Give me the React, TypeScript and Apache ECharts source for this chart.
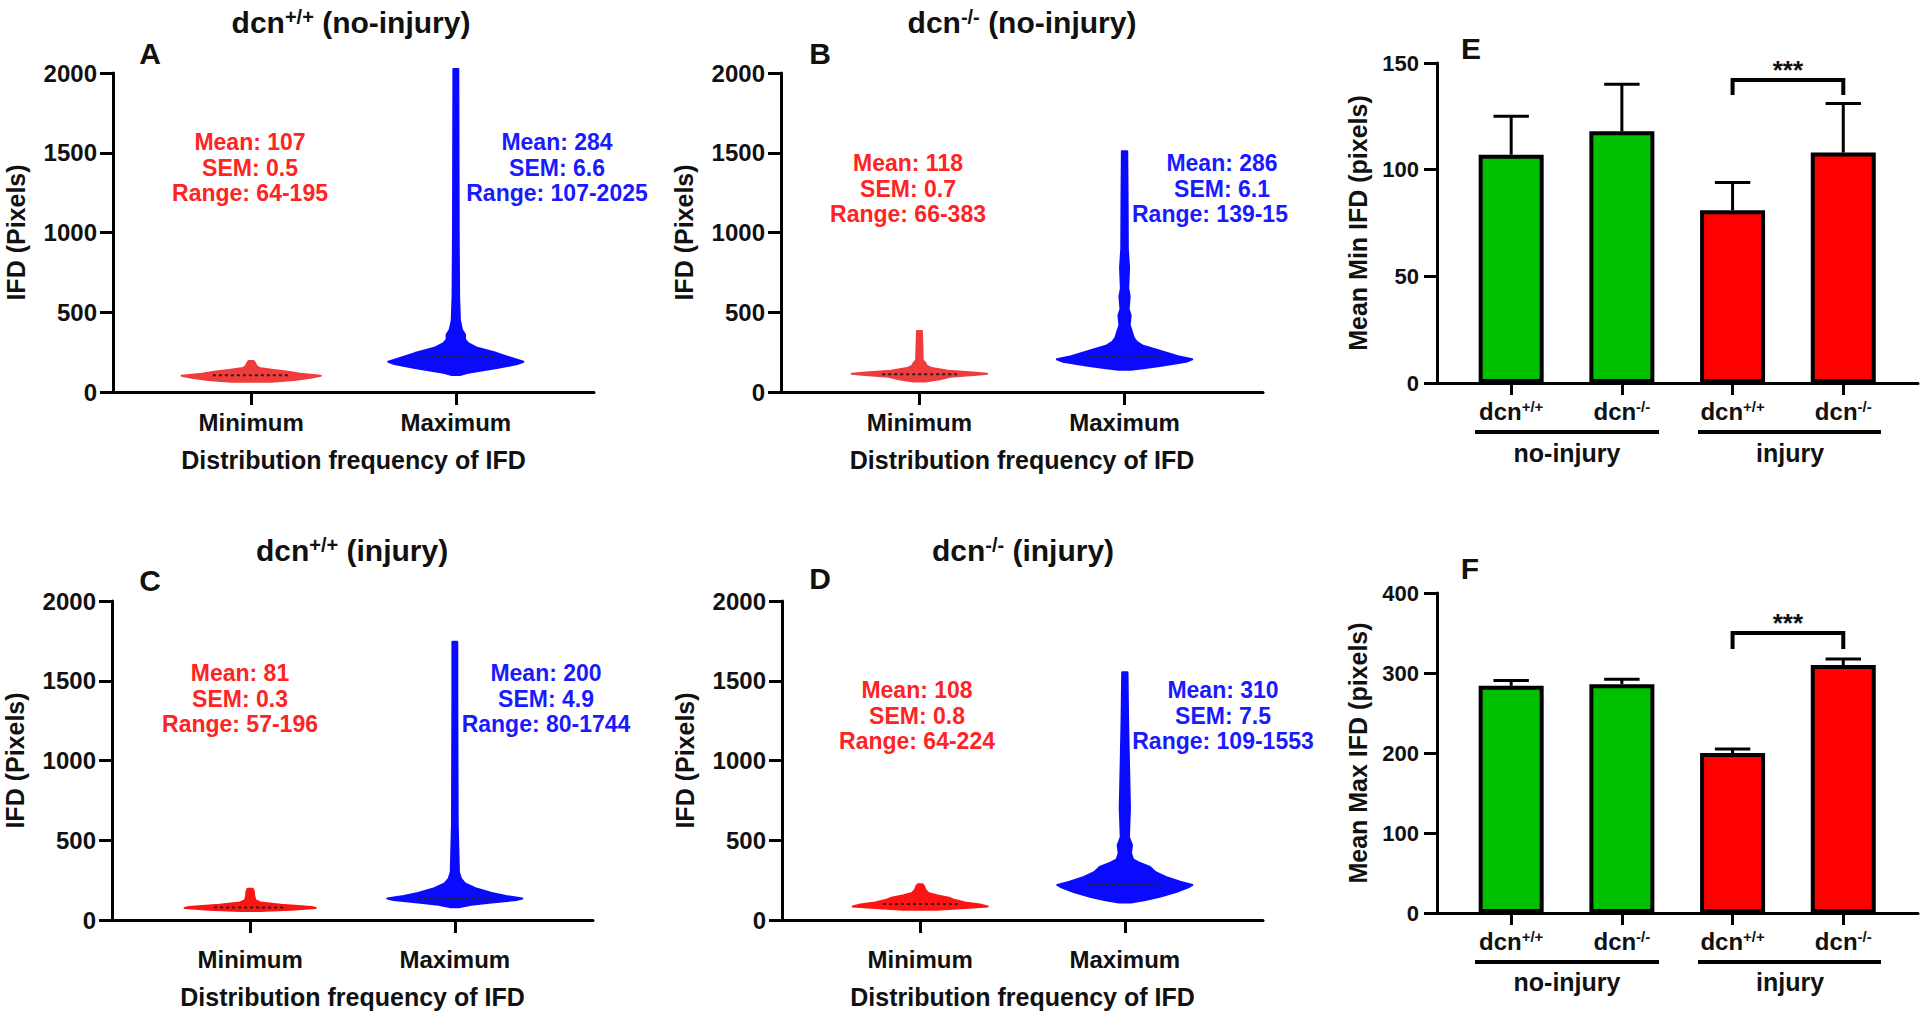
import React, { useEffect, useRef } from 'react';
import * as echarts from 'echarts';

const FONT = '"Liberation Sans", Arial, Helvetica, sans-serif';

// ---------- violin panels (A-D) ----------
const violinCategories = ['Minimum', 'Maximum'];
const violinYMax = 2000;
const violinYInterval = 500;

// density profiles: [IFD value, half-width in x-axis units]
const minProfileA = [[64, 0.1], [75, 0.21], [90, 0.29], [102, 0.34], [115, 0.24], [127, 0.18], [140, 0.1], [150, 0.04], [165, 0.025], [180, 0.02], [195, 0.012]];
const maxProfileA = [[107, 0.02], [120, 0.06], [150, 0.2], [175, 0.3], [190, 0.33], [210, 0.28], [244, 0.2], [280, 0.1], [307, 0.06], [330, 0.045], [360, 0.045], [390, 0.03], [450, 0.02], [600, 0.016], [1000, 0.014], [1500, 0.013], [2025, 0.012]];
const minProfileB = [[66, 0.03], [80, 0.1], [96, 0.15], [108, 0.28], [115, 0.33], [122, 0.26], [134, 0.14], [150, 0.06], [165, 0.035], [180, 0.03], [200, 0.016], [300, 0.014], [383, 0.012]];
const maxProfileB = [[139, 0.03], [150, 0.1], [165, 0.18], [190, 0.3], [205, 0.33], [225, 0.26], [263, 0.16], [290, 0.09], [315, 0.06], [340, 0.045], [380, 0.035], [420, 0.025], [480, 0.03], [520, 0.02], [600, 0.025], [650, 0.018], [780, 0.022], [900, 0.016], [1200, 0.015], [1510, 0.013]];
const minProfileC = [[57, 0.05], [65, 0.2], [75, 0.32], [82, 0.3], [95, 0.15], [110, 0.05], [125, 0.025], [150, 0.02], [180, 0.018], [196, 0.012]];
const maxProfileC = [[80, 0.02], [95, 0.08], [110, 0.18], [125, 0.3], [135, 0.33], [150, 0.25], [170, 0.18], [200, 0.1], [230, 0.05], [260, 0.03], [300, 0.02], [400, 0.018], [600, 0.014], [1000, 0.013], [1400, 0.012], [1744, 0.012]];
const minProfileD = [[64, 0.08], [75, 0.22], [85, 0.33], [95, 0.3], [110, 0.22], [125, 0.17], [140, 0.14], [155, 0.08], [170, 0.04], [190, 0.025], [210, 0.02], [224, 0.012]];
const maxProfileD = [[109, 0.03], [125, 0.1], [146, 0.17], [175, 0.25], [205, 0.31], [220, 0.33], [240, 0.27], [270, 0.2], [300, 0.15], [335, 0.12], [360, 0.07], [380, 0.04], [420, 0.03], [470, 0.035], [520, 0.02], [700, 0.025], [1000, 0.02], [1250, 0.016], [1553, 0.013]];

const mediansA = [105, 222];
const mediansB = [112, 222];
const mediansC = [78, 135];
const mediansD = [100, 220];

const statsMinA = ['Mean: 107', 'SEM: 0.5', 'Range: 64-195'];
const statsMaxA = ['Mean: 284', 'SEM: 6.6', 'Range: 107-2025'];
const statsMinB = ['Mean: 118', 'SEM: 0.7', 'Range: 66-383'];
const statsMaxB = ['Mean: 286', 'SEM: 6.1', 'Range: 139-15'];
const statsMinC = ['Mean: 81', 'SEM: 0.3', 'Range: 57-196'];
const statsMaxC = ['Mean: 200', 'SEM: 4.9', 'Range: 80-1744'];
const statsMinD = ['Mean: 108', 'SEM: 0.8', 'Range: 64-224'];
const statsMaxD = ['Mean: 310', 'SEM: 7.5', 'Range: 109-1553'];

// ---------- bar panels (E-F) ----------
const barBase = 'dcn';
const barSup = ['+/+', '-/-', '+/+', '-/-'];
const groupLabels = ['no-injury', 'injury'];
const meanMin = [107, 118, 81, 108];
const errMin = [18, 22, 13, 23];
const meanMax = [284, 286, 200, 310];
const errMax = [6.6, 6.1, 4.9, 7.5];
const barColors = ['#00c000', '#00c000', '#ff0000', '#ff0000'];
const sigMin = [2, 3, 142, 135];
const sigMax = [2, 3, 350, 330];

const RED_V1 = '#f03c3c';
const RED_V2 = '#ff1414';
const BLUE_V = '#0a0aff';
const RED_T = '#ff2424';
const BLUE_T = '#1a1aff';

const blackLine = { color: '#000', width: 3 };

function violinX(gridIndex: number, margin: number, nameGap: number) {
  return {
    type: 'value', gridIndex, min: 0.325, max: 2.675,
    axisLine: { show: true, onZero: false, lineStyle: blackLine },
    axisTick: { show: true, customValues: [1, 2], length: 13, lineStyle: blackLine },
    axisLabel: {
      show: true, customValues: [1, 2], margin,
      formatter: (v: number) => violinCategories[Math.round(v) - 1],
      fontSize: 24, fontWeight: 'bold', color: '#111', fontFamily: FONT,
    },
    splitLine: { show: false },
    name: 'Distribution frequency of IFD', nameLocation: 'middle', nameGap,
    nameTextStyle: { fontSize: 25, fontWeight: 'bold', color: '#111', fontFamily: FONT },
  };
}

function violinY(gridIndex: number) {
  return {
    type: 'value', gridIndex, min: 0, max: violinYMax, interval: violinYInterval,
    axisLine: { show: true, onZero: false, lineStyle: blackLine },
    axisTick: { show: true, length: 13, lineStyle: blackLine },
    axisLabel: { margin: 16, fontSize: 24, fontWeight: 'bold', color: '#111', fontFamily: FONT, formatter: (v: number) => String(v) },
    splitLine: { show: false },
    name: 'IFD (Pixels)', nameLocation: 'middle', nameGap: 85,
    nameTextStyle: { fontSize: 25, fontWeight: 'bold', color: '#111', fontFamily: FONT },
  };
}

function violinSeries(idx: number, profiles: number[][][], medians: number[], colors: string[]) {
  return {
    type: 'custom', xAxisIndex: idx, yAxisIndex: idx, clip: false, silent: true,
    data: [[1, medians[0]], [2, medians[1]]],
    encode: { x: 0, y: 1 },
    renderItem: (params: any, api: any) => {
      const i = params.dataIndex;
      const cx = api.value(0);
      const prof = profiles[i];
      const right = prof.map(([v, w]) => api.coord([cx + w, v]));
      const left = prof.slice().reverse().map(([v, w]) => api.coord([cx - w, v]));
      const med = api.value(1);
      const hw = Math.max(...prof.map((p) => p[1])) * 0.55;
      const a = api.coord([cx - hw, med]);
      const b = api.coord([cx + hw, med]);
      return {
        type: 'group',
        children: [
          { type: 'polygon', shape: { points: right.concat(left) }, style: { fill: colors[i], stroke: colors[i], lineWidth: 2, lineJoin: 'round' } },
          { type: 'line', shape: { x1: a[0], y1: a[1], x2: b[0], y2: b[1] }, style: { stroke: '#222', lineWidth: 2, lineDash: [3, 3] } },
        ],
      };
    },
  };
}

function barX(gridIndex: number) {
  return {
    type: 'value', gridIndex, min: -0.67, max: 3.675,
    axisLine: { show: true, onZero: false, lineStyle: blackLine },
    axisTick: { show: true, customValues: [0, 1, 2, 3], length: 12, lineStyle: blackLine },
    axisLabel: {
      show: true, customValues: [0, 1, 2, 3], margin: 16,
      formatter: (v: number) => `{m|${barBase}}{s|${barSup[Math.round(v)]}}`,
      rich: {
        m: { fontSize: 24, fontWeight: 'bold', color: '#111', fontFamily: FONT },
        s: { fontSize: 15, fontWeight: 'bold', color: '#111', fontFamily: FONT, verticalAlign: 'top' },
      },
    },
    splitLine: { show: false },
  };
}

function barY(gridIndex: number, max: number, interval: number, name: string) {
  return {
    type: 'value', gridIndex, min: 0, max, interval,
    axisLine: { show: true, onZero: false, lineStyle: blackLine },
    axisTick: { show: true, length: 13, lineStyle: blackLine },
    axisLabel: { margin: 18, fontSize: 22, fontWeight: 'bold', color: '#111', fontFamily: FONT, formatter: (v: number) => String(v) },
    splitLine: { show: false },
    name, nameLocation: 'middle', nameGap: 67,
    nameTextStyle: { fontSize: 25, fontWeight: 'bold', color: '#111', fontFamily: FONT },
  };
}

function barSeries(idx: number, means: number[]) {
  return {
    type: 'bar', xAxisIndex: idx, yAxisIndex: idx, barWidth: 65, silent: true,
    data: means.map((m, i) => ({ value: [i, m], itemStyle: { color: barColors[i] } })),
    itemStyle: { borderColor: '#000', borderWidth: 4 },
    z: 3,
  };
}

function errSeries(idx: number, means: number[], errs: number[]) {
  return {
    type: 'custom', xAxisIndex: idx, yAxisIndex: idx, clip: false, silent: true, z: 2,
    data: means.map((m, i) => [i, m, errs[i]]),
    encode: { x: 0, y: 1 },
    renderItem: (params: any, api: any) => {
      const x = api.value(0), m = api.value(1), e = api.value(2);
      const p0 = api.coord([x, m]);
      const p1 = api.coord([x, m + e]);
      const c0 = api.coord([x - 0.16, m + e]);
      const c1 = api.coord([x + 0.16, m + e]);
      return {
        type: 'group',
        children: [
          { type: 'line', shape: { x1: p0[0], y1: p0[1], x2: p1[0], y2: p1[1] }, style: { stroke: '#000', lineWidth: 3 } },
          { type: 'line', shape: { x1: c0[0], y1: c0[1], x2: c1[0], y2: c1[1] }, style: { stroke: '#000', lineWidth: 3 } },
        ],
      };
    },
  };
}

function sigSeries(idx: number, sig: number[]) {
  return {
    type: 'custom', xAxisIndex: idx, yAxisIndex: idx, clip: false, silent: true,
    data: [sig],
    encode: { x: [0, 1], y: [2, 3] },
    renderItem: (params: any, api: any) => {
      const x1 = api.value(0), x2 = api.value(1), top = api.value(2), leg = api.value(3);
      const a = api.coord([x1, leg]);
      const b = api.coord([x1, top]);
      const c = api.coord([x2, top]);
      const d = api.coord([x2, leg]);
      const mid = api.coord([(x1 + x2) / 2, top]);
      return {
        type: 'group',
        children: [
          { type: 'polyline', shape: { points: [a, b, c, d] }, style: { stroke: '#000', lineWidth: 4, fill: 'none' } },
          { type: 'text', x: mid[0], y: mid[1] + 3, style: { text: '***', fill: '#111', font: `bold 26px ${FONT}`, align: 'center', verticalAlign: 'bottom', textAlign: 'center', textVerticalAlign: 'bottom' } },
        ],
      };
    },
  };
}

function textEl(text: string, x: number, y: number, size: number, fill: string, align = 'center', extra: any = {}) {
  return {
    type: 'text', x, y, silent: true,
    style: {
      text, fill, fontSize: size, fontWeight: 'bold', fontFamily: FONT,
      align, verticalAlign: 'middle', textAlign: align, textVerticalAlign: 'middle', ...extra,
    },
  };
}

function statsEl(lines: string[], x: number, y: number, fill: string) {
  return {
    type: 'text', x, y: y - 12.75, silent: true,
    style: {
      text: lines.join('\n'), fill, fontSize: 23, fontWeight: 'bold', fontFamily: FONT, lineHeight: 25.5,
      align: 'center', verticalAlign: 'top', textAlign: 'center', textVerticalAlign: 'top',
    },
  };
}

function titleEl(sup: string, rest: string, x: number, y: number) {
  const rich = {
    m: { fontSize: 30, fontWeight: 'bold', fontFamily: FONT, fill: '#111', color: '#111' },
    s: { fontSize: 20, fontWeight: 'bold', fontFamily: FONT, fill: '#111', color: '#111', verticalAlign: 'top' },
  };
  return {
    type: 'text', x, y, silent: true,
    style: {
      text: `{m|dcn}{s|${sup}}{m| ${rest}}`, rich,
      align: 'center', verticalAlign: 'middle', textAlign: 'center', textVerticalAlign: 'middle',
    },
  };
}

function lineEl(x1: number, x2: number, y: number) {
  return { type: 'line', silent: true, shape: { x1, y1: y, x2, y2: y }, style: { stroke: '#000', lineWidth: 4 } };
}

function buildOption() {
  const grids = [
    { left: 113, top: 73, width: 481, height: 319 },
    { left: 781, top: 73, width: 482, height: 319 },
    { left: 112, top: 601, width: 481, height: 319 },
    { left: 782, top: 601, width: 481, height: 319 },
    { left: 1437, top: 63, width: 481, height: 320 },
    { left: 1437, top: 593, width: 481, height: 320 },
  ].map((g) => ({ ...g, containLabel: false, outerBoundsMode: 'none' }));

  const graphic: any[] = [
    titleEl('+/+', '(no-injury)', 351, 22),
    titleEl('-/-', '(no-injury)', 1022, 22),
    titleEl('+/+', '(injury)', 352, 550),
    titleEl('-/-', '(injury)', 1023, 550),
    textEl('A', 150, 53, 30, '#111'),
    textEl('B', 820, 53, 30, '#111'),
    textEl('C', 150, 580, 30, '#111'),
    textEl('D', 820, 578, 30, '#111'),
    textEl('E', 1471, 48, 30, '#111'),
    textEl('F', 1470, 568, 30, '#111'),
    statsEl(statsMinA, 250, 142, RED_T),
    statsEl(statsMaxA, 557, 142, BLUE_T),
    statsEl(statsMinB, 908, 163, RED_T),
    statsEl(statsMaxB.slice(0, 2), 1222, 163, BLUE_T),
    textEl(statsMaxB[2], 1132, 214, 23, BLUE_T, 'left'),
    statsEl(statsMinC, 240, 673, RED_T),
    statsEl(statsMaxC, 546, 673, BLUE_T),
    statsEl(statsMinD, 917, 690, RED_T),
    statsEl(statsMaxD, 1223, 690, BLUE_T),
    lineEl(1475, 1659, 432),
    lineEl(1698, 1881, 432),
    textEl(groupLabels[0], 1567, 453, 25, '#111'),
    textEl(groupLabels[1], 1790, 453, 25, '#111'),
    lineEl(1475, 1659, 962),
    lineEl(1698, 1881, 962),
    textEl(groupLabels[0], 1567, 982, 25, '#111'),
    textEl(groupLabels[1], 1790, 982, 25, '#111'),
  ];

  return {
    animation: false,
    backgroundColor: '#fff',
    grid: grids,
    xAxis: [violinX(0, 18, 55), violinX(1, 18, 55), violinX(2, 27, 64), violinX(3, 27, 64), barX(4), barX(5)],
    yAxis: [violinY(0), violinY(1), violinY(2), violinY(3),
      barY(4, 150, 50, 'Mean Min IFD (pixels)'), barY(5, 400, 100, 'Mean Max IFD (pixels)')],
    series: [
      violinSeries(0, [minProfileA, maxProfileA], mediansA, [RED_V1, BLUE_V]),
      violinSeries(1, [minProfileB, maxProfileB], mediansB, [RED_V1, BLUE_V]),
      violinSeries(2, [minProfileC, maxProfileC], mediansC, [RED_V2, BLUE_V]),
      violinSeries(3, [minProfileD, maxProfileD], mediansD, [RED_V2, BLUE_V]),
      barSeries(4, meanMin), errSeries(4, meanMin, errMin), sigSeries(4, sigMin),
      barSeries(5, meanMax), errSeries(5, meanMax, errMax), sigSeries(5, sigMax),
    ],
    graphic,
  };
}

export default function App() {
  const ref = useRef<HTMLDivElement>(null);
  useEffect(() => {
    if (!ref.current) return;
    const chart = echarts.init(ref.current, null, { renderer: 'svg' });
    chart.setOption(buildOption() as any);
    return () => chart.dispose();
  }, []);
  return (
    <div
      ref={ref}
      style={{ position: 'absolute', left: 0, top: 0, width: 1920, height: 1012, background: '#fff' }}
    />
  );
}
